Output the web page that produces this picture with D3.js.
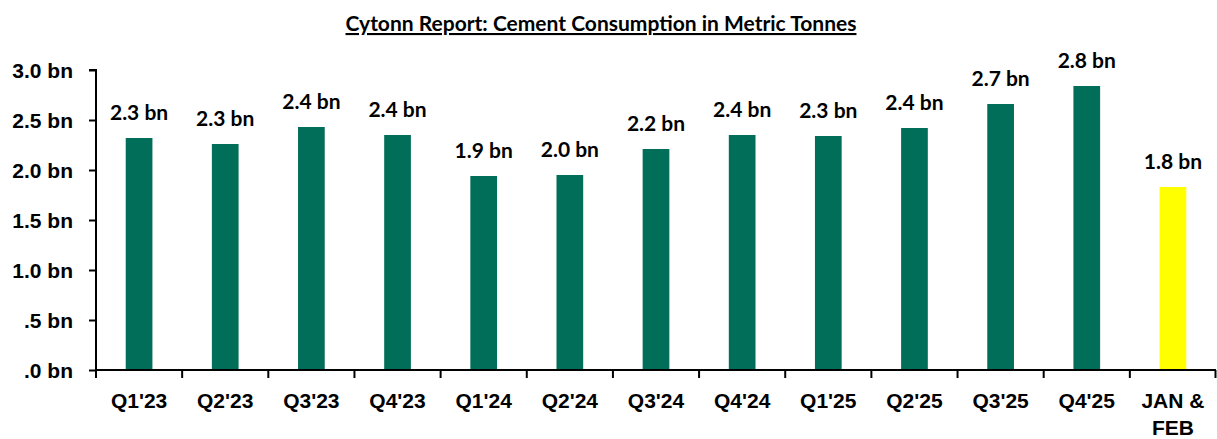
<!DOCTYPE html>
<html>
<head>
<meta charset="utf-8">
<script src="https://cdn.jsdelivr.net/npm/d3@7.9.0/dist/d3.min.js"></script>
<style>
  body { margin: 0; background: #fff; }
  svg { display: block; font-family: Lato, "Open Sans", sans-serif; font-weight: 700; }
</style>
</head>
<body>
<div id="chart"></div>
<script>
// Chart data
const categories = ["Q1'23", "Q2'23", "Q3'23", "Q4'23", "Q1'24", "Q2'24", "Q3'24", "Q4'24", "Q1'25", "Q2'25", "Q3'25", "Q4'25", "JAN & FEB"];
const values = [2.32, 2.26, 2.43, 2.35, 1.94, 1.95, 2.21, 2.35, 2.34, 2.42, 2.66, 2.84, 1.83]; // billions
const labels = ["2.3 bn", "2.3 bn", "2.4 bn", "2.4 bn", "1.9 bn", "2.0 bn", "2.2 bn", "2.4 bn", "2.3 bn", "2.4 bn", "2.7 bn", "2.8 bn", "1.8 bn"];
const yTicks = [0, 0.5, 1, 1.5, 2, 2.5, 3];
const title = "Cytonn Report: Cement Consumption in Metric Tonnes";

const width = 1217, height = 439;
const margin = { top: 70, right: 1, bottom: 69, left: 96 };
const fs = '21px';

const svg = d3.select('#chart').append('svg')
  .attr('width', width)
  .attr('height', height);

const x = d3.scaleBand()
  .domain(categories)
  .range([margin.left, width - margin.right])
  .paddingInner(0.69)
  .paddingOuter(0.345);

const y = d3.scaleLinear()
  .domain([0, 3])
  .range([height - margin.bottom, margin.top]);

// title
svg.append('text')
  .attr('x', 601)
  .attr('y', 31)
  .attr('text-anchor', 'middle')
  .style('font-size', fs)
  .style('text-decoration', 'underline')
  .text(title);

// bars
svg.append('g').selectAll('rect')
  .data(values)
  .join('rect')
  .attr('x', (d, i) => x(categories[i]))
  .attr('y', d => y(d))
  .attr('width', x.bandwidth())
  .attr('height', d => y(0) - y(d))
  .attr('fill', (d, i) => i === categories.length - 1 ? '#ffff00' : '#006e58');

// value labels
svg.append('g').selectAll('text')
  .data(values)
  .join('text')
  .attr('x', (d, i) => x(categories[i]) + x.bandwidth() / 2)
  .attr('y', d => y(d) - 18)
  .attr('text-anchor', 'middle')
  .style('font-size', fs)
  .text((d, i) => labels[i]);

// y axis
const yAxis = svg.append('g')
  .attr('transform', `translate(${margin.left},0)`)
  .call(d3.axisLeft(y).tickValues(yTicks).tickSize(7).tickPadding(16)
    .tickFormat(d => d3.format('.1f')(d).replace(/^0/, '') + ' bn'));
yAxis.selectAll('text').style('font-size', fs).attr('fill', '#000').attr('dy', '0.35em');
yAxis.select('.domain').attr('stroke', '#000').attr('stroke-width', 2).attr('d', `M-7,${y(3)}H0V${y(0)}`);
yAxis.selectAll('.tick line').attr('stroke', '#000').attr('stroke-width', 2);

// x axis
const xAxis = svg.append('g')
  .attr('transform', `translate(0,${y(0)})`)
  .call(d3.axisBottom(x).tickSize(0).tickPadding(0));
xAxis.select('.domain').attr('stroke', '#000').attr('stroke-width', 2)
  .attr('d', `M${margin.left},0H${width - margin.right}`);
xAxis.selectAll('.tick text').remove();

// boundary ticks between categories
const bounds = d3.range(categories.length + 1).map(i => margin.left + i * x.step());
xAxis.selectAll('line.sep')
  .data(bounds)
  .join('line')
  .attr('class', 'sep')
  .attr('x1', d => Math.min(d, width - 1.5)).attr('x2', d => Math.min(d, width - 1.5))
  .attr('y1', 0).attr('y2', 8)
  .attr('stroke', '#000').attr('stroke-width', 2);

// category labels (wrapping the last one)
xAxis.selectAll('text.cat')
  .data(categories)
  .join('text')
  .attr('class', 'cat')
  .attr('x', d => x(d) + x.bandwidth() / 2)
  .attr('y', 38)
  .attr('text-anchor', 'middle')
  .style('font-size', fs)
  .attr('fill', '#000')
  .each(function(d) {
    const el = d3.select(this);
    if (d === 'JAN & FEB') {
      el.append('tspan').attr('x', x(d) + x.bandwidth() / 2).text('JAN &');
      el.append('tspan').attr('x', x(d) + x.bandwidth() / 2).attr('dy', 27).text('FEB');
    } else {
      el.text(d);
    }
  });
</script>
</body>
</html>
